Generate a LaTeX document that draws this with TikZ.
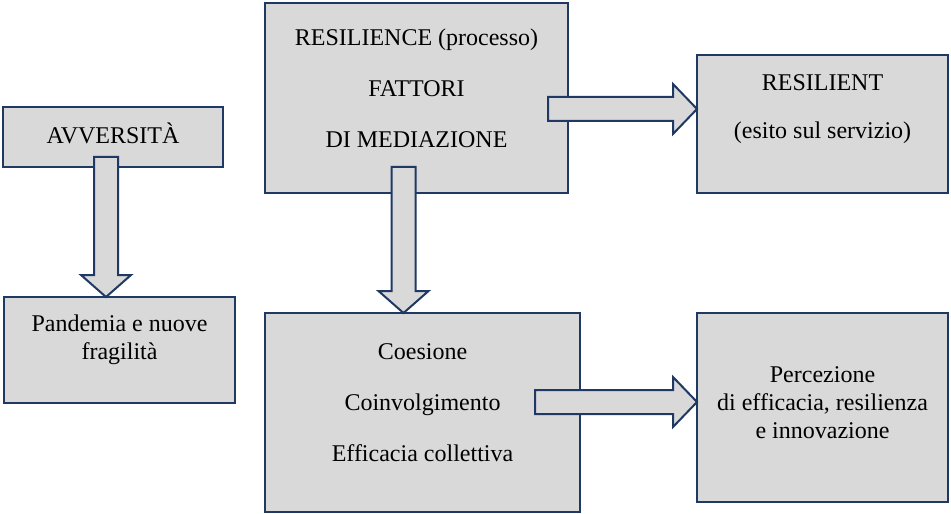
\documentclass[tikz,border=0pt]{standalone}
\usepackage{fontspec}
\setmainfont{Liberation Serif}
\usepackage{xcolor}
\definecolor{navy}{RGB}{31,56,100}
\definecolor{boxgrey}{RGB}{217,217,217}
\usepackage{tikz}
\usetikzlibrary{calc}
\usetikzlibrary{positioning}

\newcommand{\fatdown}[2]{%
\draw[fatarrow] let \p1=(#1), \p2=(#2) in
 (\x2-6pt,\y1) -- (\x2+6pt,\y1) -- (\x2+6pt,\y2+11pt) -- (\x2+12.5pt,\y2+11pt)
 -- (\p2) -- (\x2-12.5pt,\y2+11pt) -- (\x2-6pt,\y2+11pt) -- cycle;}
\newcommand{\fatright}[2]{%
\draw[fatarrow] let \p1=(#1), \p2=(#2) in
 (\x1,\y2+6pt) -- (\x2-12pt,\y2+6pt) -- (\x2-12pt,\y2+12.5pt) -- (\p2)
 -- (\x2-12pt,\y2-12.5pt) -- (\x2-12pt,\y2-6pt) -- (\x1,\y2-6pt) -- cycle;}

\begin{document}
\begin{tikzpicture}[x=0.5pt,y=-0.5pt,
  box/.style={draw=navy,fill=boxgrey,line width=1pt,inner sep=0pt,outer sep=0pt},
  txt/.style={font=\fontsize{12}{14}\selectfont,align=center},
  fatarrow/.style={draw=navy,fill=boxgrey,line width=1pt,line join=miter}]
\useasboundingbox (0,0) rectangle (951,513);

\node (avv) at (113,137) [box,minimum width=110pt,minimum height=30pt,
  label={[txt,yshift=2pt]center:AVVERSITÀ}]{};
\node (pand) at (119.5,350) [box,minimum width=115.5pt,minimum height=53pt,
  label={[txt,yshift=5.25pt]center:{Pandemia e nuove\\fragilità}}]{};
\node (rproc) at (416.5,98) [box,minimum width=151.5pt,minimum height=95pt,
  label={[txt,yshift=5pt]center:{RESILIENCE (processo)\\[11.5pt]FATTORI\\[11.5pt]DI MEDIAZIONE}}]{};
\node (rout) at (822.5,124) [box,minimum width=125.5pt,minimum height=69pt,
  label={[txt,yshift=7.5pt]center:{RESILIENT\\[10pt](esito sul servizio)}}]{};
\node (coes) at (422.5,412.5) [box,minimum width=157.5pt,minimum height=99.5pt,
  label={[txt,yshift=4.75pt]center:{Coesione\\[11.5pt]Coinvolgimento\\[11.5pt]Efficacia collettiva}}]{};
\node (perc) at (822.5,407.5) [box,minimum width=125.5pt,minimum height=94.5pt,
  label={[txt,yshift=2.25pt]center:{Percezione\\di efficacia, resilienza\\e innovazione}}]{};

% block arrows
\coordinate (a1) at ([yshift=5pt]avv.south);
\fatdown{a1}{[xshift=-6.75pt]pand.north}
\coordinate (r1) at ([yshift=13pt]rproc.south);
\fatdown{r1}{[xshift=-9.5pt]coes.north}
\coordinate (r2) at ([xshift=-10pt]rproc.east);
\fatright{r2}{[yshift=7.5pt]rout.west}
\coordinate (c1) at ([xshift=-22.5pt]coes.east);
\fatright{c1}{[yshift=2.75pt]perc.west}
\end{tikzpicture}
\end{document}
